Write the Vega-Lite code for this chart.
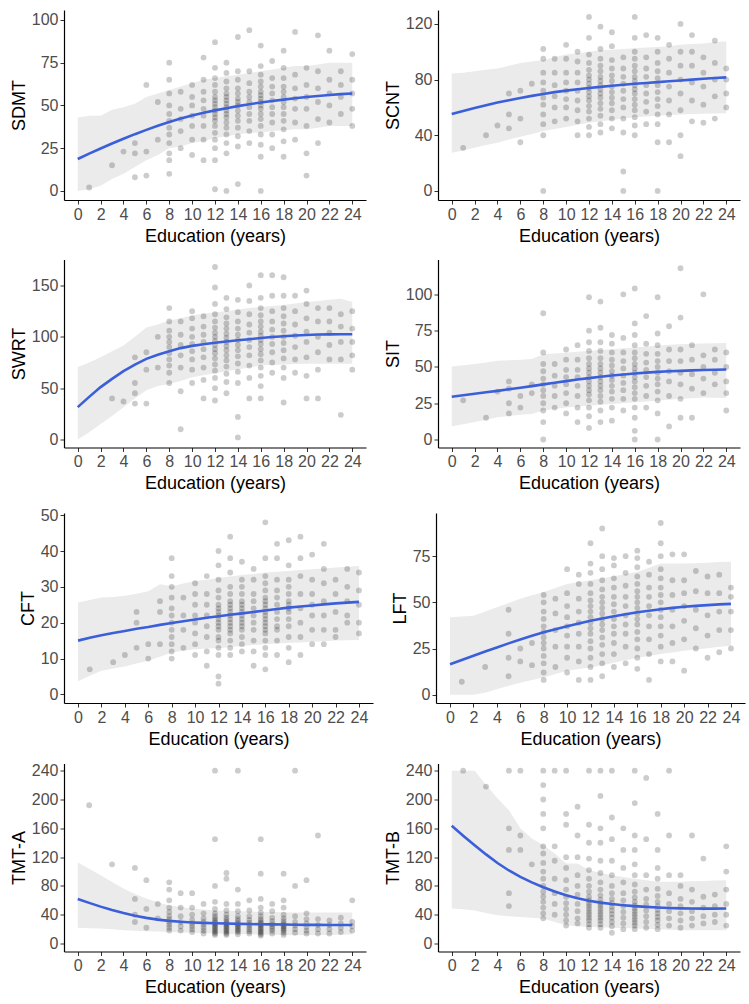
{
"$schema":"https://vega.github.io/schema/vega-lite/v6.json",
"padding":{"left":10,"top":10,"right":5,"bottom":5},
"background":"white",
"config":{"view":{"stroke":null},"font":"Liberation Sans",
"axis":{"grid":false,"domainColor":"#000","domainWidth":1.2,"tickColor":"#333","tickSize":4,"tickWidth":1,"labelFontSize":16,"labelColor":"#4d4d4d","labelOverlap":false,"titleFontSize":18,"titleFontWeight":"normal","titleColor":"#000","labelPadding":2,"titlePadding":5},
"axisY":{"titlePadding":3,"labelOverlap":false},
"circle":{"color":"#000","opacity":0.2,"size":34},
"line":{"color":"#3b5fd9","strokeWidth":2.6},
"area":{"color":"#ebebeb","opacity":1}},
"datasets":{
"bSDMT":[{"x":0,"lo":0,"hi":43,"f":18.7},{"x":1,"lo":1,"hi":44,"f":21.8},{"x":2,"lo":3,"hi":44,"f":24.8},{"x":3,"lo":7,"hi":47.5,"f":27.7},{"x":4,"lo":10,"hi":49,"f":30.5},{"x":5,"lo":14,"hi":51,"f":33.2},{"x":6,"lo":18,"hi":55,"f":35.7},{"x":7,"lo":21,"hi":57,"f":38.1},{"x":8,"lo":25,"hi":59,"f":40.3},{"x":9,"lo":26,"hi":61,"f":42.3},{"x":10,"lo":28,"hi":63,"f":44.1},{"x":11,"lo":29,"hi":65,"f":45.7},{"x":12,"lo":31,"hi":66,"f":47.1},{"x":13,"lo":32,"hi":67,"f":48.4},{"x":14,"lo":33,"hi":68,"f":49.6},{"x":15,"lo":34,"hi":69,"f":50.7},{"x":16,"lo":34,"hi":70,"f":51.7},{"x":17,"lo":35,"hi":71,"f":52.6},{"x":18,"lo":35.5,"hi":72,"f":53.4},{"x":19,"lo":36,"hi":73,"f":54.2},{"x":20,"lo":36,"hi":73,"f":54.9},{"x":21,"lo":37,"hi":74,"f":55.5},{"x":22,"lo":38,"hi":75,"f":56.1},{"x":23,"lo":38,"hi":75,"f":56.6},{"x":24,"lo":38,"hi":75,"f":57}],
"bSCNT":[{"x":0,"lo":27.4,"hi":84.4,"f":55.3},{"x":1,"lo":29,"hi":85,"f":57.5},{"x":2,"lo":31,"hi":86,"f":59.6},{"x":3,"lo":33,"hi":87,"f":61.6},{"x":4,"lo":34.7,"hi":88,"f":63.5},{"x":5,"lo":37,"hi":90,"f":65.2},{"x":6,"lo":39,"hi":92,"f":66.8},{"x":7,"lo":41,"hi":93,"f":68.3},{"x":8,"lo":43,"hi":94,"f":69.7},{"x":9,"lo":44.5,"hi":96,"f":71},{"x":10,"lo":46,"hi":98,"f":72.1},{"x":11,"lo":47.5,"hi":99,"f":73.1},{"x":12,"lo":49,"hi":100,"f":74},{"x":13,"lo":50,"hi":101,"f":74.8},{"x":14,"lo":51,"hi":101.5,"f":75.6},{"x":15,"lo":52,"hi":102,"f":76.3},{"x":16,"lo":53,"hi":102.5,"f":77},{"x":17,"lo":53.5,"hi":103,"f":77.6},{"x":18,"lo":54,"hi":103.5,"f":78.2},{"x":19,"lo":54.5,"hi":104,"f":78.8},{"x":20,"lo":55,"hi":105,"f":79.4},{"x":21,"lo":55.3,"hi":105.5,"f":80},{"x":22,"lo":55.5,"hi":106,"f":80.6},{"x":23,"lo":55.7,"hi":107,"f":81.1},{"x":24,"lo":55.8,"hi":107.4,"f":81.6}],
"bSWRT":[{"x":0,"lo":0,"hi":70.5,"f":31.5},{"x":1,"lo":7,"hi":75,"f":41.5},{"x":2,"lo":15,"hi":80,"f":51},{"x":3,"lo":23,"hi":86,"f":59},{"x":4,"lo":31.5,"hi":91.5,"f":66.5},{"x":5,"lo":40,"hi":100,"f":73},{"x":6,"lo":48,"hi":109,"f":78.5},{"x":7,"lo":52,"hi":112,"f":82.5},{"x":8,"lo":54,"hi":116,"f":86},{"x":9,"lo":57,"hi":118,"f":89},{"x":10,"lo":60.7,"hi":121,"f":91.2},{"x":11,"lo":62.5,"hi":122.5,"f":92.8},{"x":12,"lo":64.6,"hi":124,"f":94.2},{"x":13,"lo":66.5,"hi":125,"f":95.4},{"x":14,"lo":68.5,"hi":126.5,"f":96.6},{"x":15,"lo":70,"hi":128,"f":97.7},{"x":16,"lo":72,"hi":129,"f":98.8},{"x":17,"lo":72.5,"hi":130,"f":99.8},{"x":18,"lo":73,"hi":131,"f":100.6},{"x":19,"lo":73.5,"hi":132.5,"f":101.3},{"x":20,"lo":73.7,"hi":134,"f":101.8},{"x":21,"lo":73.7,"hi":135,"f":102.2},{"x":22,"lo":73.7,"hi":136,"f":102.4},{"x":23,"lo":73.7,"hi":137,"f":102.5},{"x":24,"lo":73.7,"hi":134,"f":102.5}],
"bSIT":[{"x":0,"lo":9.2,"hi":50.3,"f":29.5},{"x":1,"lo":10.6,"hi":51.2,"f":30.5},{"x":2,"lo":12,"hi":52,"f":31.5},{"x":3,"lo":13.6,"hi":53,"f":32.5},{"x":4,"lo":15.3,"hi":54.2,"f":33.5},{"x":5,"lo":16.2,"hi":54.6,"f":34.6},{"x":6,"lo":17,"hi":55,"f":35.7},{"x":7,"lo":17.6,"hi":55.4,"f":36.8},{"x":8,"lo":20,"hi":58.8,"f":38},{"x":9,"lo":21,"hi":59.3,"f":39.1},{"x":10,"lo":22,"hi":59.8,"f":40.2},{"x":11,"lo":22.7,"hi":60.4,"f":41.3},{"x":12,"lo":23.3,"hi":61,"f":42.3},{"x":13,"lo":23.9,"hi":61.6,"f":43.2},{"x":14,"lo":24.5,"hi":62.2,"f":44.1},{"x":15,"lo":25,"hi":62.8,"f":44.8},{"x":16,"lo":25.6,"hi":63.4,"f":45.5},{"x":17,"lo":26.2,"hi":64,"f":46.1},{"x":18,"lo":26.8,"hi":64.6,"f":46.6},{"x":19,"lo":27.4,"hi":65.2,"f":47},{"x":20,"lo":28,"hi":65.7,"f":47.3},{"x":21,"lo":28.5,"hi":66,"f":47.6},{"x":22,"lo":29,"hi":66.2,"f":47.9},{"x":23,"lo":28.8,"hi":66.3,"f":48.1},{"x":24,"lo":28.6,"hi":66.4,"f":48.2}],
"bCFT":[{"x":0,"lo":3.7,"hi":25.6,"f":15},{"x":1,"lo":5.2,"hi":26.3,"f":15.8},{"x":2,"lo":6.6,"hi":27,"f":16.5},{"x":3,"lo":7.2,"hi":27.2,"f":17.1},{"x":4,"lo":7.8,"hi":27.5,"f":17.7},{"x":5,"lo":8.6,"hi":28.1,"f":18.3},{"x":6,"lo":9.4,"hi":28.8,"f":18.8},{"x":7,"lo":10.5,"hi":30.7,"f":19.4},{"x":8,"lo":11.7,"hi":30.2,"f":19.9},{"x":9,"lo":12.2,"hi":30.9,"f":20.4},{"x":10,"lo":12.6,"hi":31.6,"f":20.9},{"x":11,"lo":12.8,"hi":32,"f":21.4},{"x":12,"lo":12.9,"hi":32.5,"f":21.8},{"x":13,"lo":13.2,"hi":32.9,"f":22.2},{"x":14,"lo":13.5,"hi":33.3,"f":22.6},{"x":15,"lo":13.8,"hi":33.6,"f":23},{"x":16,"lo":14,"hi":34,"f":23.4},{"x":17,"lo":14.2,"hi":34.2,"f":23.8},{"x":18,"lo":14.4,"hi":34.4,"f":24.2},{"x":19,"lo":14.5,"hi":34.7,"f":24.5},{"x":20,"lo":14.7,"hi":34.9,"f":24.8},{"x":21,"lo":14.8,"hi":35.1,"f":25.1},{"x":22,"lo":15,"hi":35.4,"f":25.4},{"x":23,"lo":15.1,"hi":35.6,"f":25.6},{"x":24,"lo":15.2,"hi":35.8,"f":25.8}],
"bLFT":[{"x":0,"lo":0,"hi":42,"f":16.5},{"x":1,"lo":0,"hi":42.4,"f":18.8},{"x":2,"lo":0,"hi":42.8,"f":21.1},{"x":3,"lo":1,"hi":45,"f":23.4},{"x":4,"lo":3,"hi":47.4,"f":25.6},{"x":5,"lo":4.8,"hi":49.7,"f":27.8},{"x":6,"lo":6.5,"hi":52,"f":29.9},{"x":7,"lo":8,"hi":53.8,"f":31.9},{"x":8,"lo":9.3,"hi":55.6,"f":33.8},{"x":9,"lo":11.2,"hi":57.8,"f":35.5},{"x":10,"lo":13,"hi":60,"f":37.1},{"x":11,"lo":13.9,"hi":61,"f":38.6},{"x":12,"lo":14.7,"hi":62,"f":40},{"x":13,"lo":16,"hi":63.1,"f":41.3},{"x":14,"lo":17.3,"hi":64.2,"f":42.5},{"x":15,"lo":18.7,"hi":65.4,"f":43.6},{"x":16,"lo":20,"hi":66.5,"f":44.6},{"x":17,"lo":21,"hi":68.7,"f":45.5},{"x":18,"lo":22,"hi":71,"f":46.3},{"x":19,"lo":22.9,"hi":71,"f":47},{"x":20,"lo":23.8,"hi":71,"f":47.6},{"x":21,"lo":24.5,"hi":71.2,"f":48.1},{"x":22,"lo":25.2,"hi":71.5,"f":48.5},{"x":23,"lo":25.9,"hi":71.8,"f":48.9},{"x":24,"lo":26.5,"hi":72,"f":49.2}],
"bTMTA":[{"x":0,"lo":21.8,"hi":112.6,"f":62},{"x":1,"lo":21.4,"hi":104,"f":56.5},{"x":2,"lo":21,"hi":95,"f":51.3},{"x":3,"lo":19.8,"hi":85.5,"f":46.5},{"x":4,"lo":18.5,"hi":76.5,"f":42.3},{"x":5,"lo":17.8,"hi":69,"f":38.7},{"x":6,"lo":17.2,"hi":62.5,"f":35.7},{"x":7,"lo":16.6,"hi":57.5,"f":33.3},{"x":8,"lo":16,"hi":53,"f":31.5},{"x":9,"lo":15.5,"hi":50.7,"f":30.2},{"x":10,"lo":15,"hi":48.7,"f":29.3},{"x":11,"lo":14.5,"hi":47.3,"f":28.7},{"x":12,"lo":14,"hi":46,"f":28.2},{"x":13,"lo":13.6,"hi":45.5,"f":27.8},{"x":14,"lo":13.2,"hi":45,"f":27.4},{"x":15,"lo":12.8,"hi":44.5,"f":27.1},{"x":16,"lo":12.5,"hi":44,"f":26.8},{"x":17,"lo":12.3,"hi":43.7,"f":26.6},{"x":18,"lo":12,"hi":43.5,"f":26.4},{"x":19,"lo":11.8,"hi":43.2,"f":26.2},{"x":20,"lo":11.6,"hi":43,"f":26},{"x":21,"lo":11.8,"hi":43,"f":25.9},{"x":22,"lo":12,"hi":43,"f":25.8},{"x":23,"lo":12.2,"hi":43,"f":25.8},{"x":24,"lo":12.5,"hi":43,"f":25.8}],
"bTMTB":[{"x":0,"lo":48.7,"hi":240,"f":163.6},{"x":1,"lo":47.5,"hi":240,"f":149.8},{"x":2,"lo":46,"hi":240,"f":136.6},{"x":3,"lo":42.5,"hi":220,"f":123.8},{"x":4,"lo":39.4,"hi":201.6,"f":111.8},{"x":5,"lo":38,"hi":185,"f":101.5},{"x":6,"lo":37,"hi":160,"f":92.7},{"x":7,"lo":36,"hi":146,"f":85},{"x":8,"lo":34.8,"hi":136.7,"f":78.2},{"x":9,"lo":30,"hi":125,"f":72.2},{"x":10,"lo":25.5,"hi":111,"f":67},{"x":11,"lo":24,"hi":111,"f":62.8},{"x":12,"lo":23,"hi":102,"f":59.5},{"x":13,"lo":22.5,"hi":98,"f":56.9},{"x":14,"lo":22,"hi":95,"f":54.9},{"x":15,"lo":21.5,"hi":92.5,"f":53.3},{"x":16,"lo":21,"hi":90,"f":52},{"x":17,"lo":20.5,"hi":88,"f":51},{"x":18,"lo":20,"hi":86,"f":50.1},{"x":19,"lo":19.2,"hi":86,"f":49.4},{"x":20,"lo":18.5,"hi":86,"f":48.9},{"x":21,"lo":18.5,"hi":86.5,"f":48.6},{"x":22,"lo":18.5,"hi":87,"f":48.5},{"x":23,"lo":18.5,"hi":87.5,"f":48.5},{"x":24,"lo":18.5,"hi":88,"f":48.6}],
"pSDMT":[{"x":1,"y":2},{"x":3,"y":15},{"x":4,"y":23},{"x":5,"y":8},{"x":5,"y":28},{"x":5,"y":22},{"x":6,"y":62},{"x":6,"y":9},{"x":6,"y":23},{"x":7,"y":30},{"x":7,"y":52},
{"x":8,"y":10},{"x":8,"y":18},{"x":8,"y":22},{"x":8,"y":28},{"x":8,"y":33},{"x":8,"y":37},{"x":8,"y":41},{"x":8,"y":45},{"x":8,"y":50},{"x":8,"y":57},{"x":8,"y":65},{"x":8,"y":75},
{"x":9,"y":25},{"x":9,"y":35},{"x":9,"y":42},{"x":9,"y":48},{"x":9,"y":58},
{"x":10,"y":21},{"x":10,"y":30},{"x":10,"y":38},{"x":10,"y":44},{"x":10,"y":50},{"x":10,"y":55},{"x":10,"y":62},
{"x":11,"y":18},{"x":11,"y":30},{"x":11,"y":38},{"x":11,"y":44},{"x":11,"y":48},{"x":11,"y":53},{"x":11,"y":58},{"x":11,"y":65},{"x":11,"y":78},
{"x":12,"y":1},{"x":12,"y":18},{"x":12,"y":25},{"x":12,"y":30},{"x":12,"y":34},{"x":12,"y":38},{"x":12,"y":41},{"x":12,"y":43},{"x":12,"y":45},{"x":12,"y":47},{"x":12,"y":49},{"x":12,"y":51},{"x":12,"y":53},{"x":12,"y":55},{"x":12,"y":58},{"x":12,"y":62},{"x":12,"y":66},{"x":12,"y":72},{"x":12,"y":87},
{"x":13,"y":0},{"x":13,"y":22},{"x":13,"y":28},{"x":13,"y":33},{"x":13,"y":37},{"x":13,"y":40},{"x":13,"y":43},{"x":13,"y":45},{"x":13,"y":47},{"x":13,"y":49},{"x":13,"y":51},{"x":13,"y":53},{"x":13,"y":55},{"x":13,"y":57},{"x":13,"y":60},{"x":13,"y":64},{"x":13,"y":69},{"x":13,"y":75},
{"x":14,"y":4},{"x":14,"y":26},{"x":14,"y":32},{"x":14,"y":37},{"x":14,"y":41},{"x":14,"y":44},{"x":14,"y":47},{"x":14,"y":50},{"x":14,"y":52},{"x":14,"y":54},{"x":14,"y":57},{"x":14,"y":60},{"x":14,"y":65},{"x":14,"y":70},{"x":14,"y":90},
{"x":15,"y":28},{"x":15,"y":35},{"x":15,"y":41},{"x":15,"y":45},{"x":15,"y":49},{"x":15,"y":52},{"x":15,"y":55},{"x":15,"y":58},{"x":15,"y":63},{"x":15,"y":70},{"x":15,"y":94},
{"x":16,"y":0},{"x":16,"y":20},{"x":16,"y":27},{"x":16,"y":33},{"x":16,"y":38},{"x":16,"y":42},{"x":16,"y":45},{"x":16,"y":48},{"x":16,"y":50},{"x":16,"y":52},{"x":16,"y":54},{"x":16,"y":56},{"x":16,"y":58},{"x":16,"y":61},{"x":16,"y":64},{"x":16,"y":68},{"x":16,"y":73},{"x":16,"y":85},
{"x":17,"y":25},{"x":17,"y":33},{"x":17,"y":40},{"x":17,"y":45},{"x":17,"y":49},{"x":17,"y":53},{"x":17,"y":57},{"x":17,"y":61},{"x":17,"y":66},{"x":17,"y":76},
{"x":18,"y":20},{"x":18,"y":29},{"x":18,"y":36},{"x":18,"y":41},{"x":18,"y":45},{"x":18,"y":49},{"x":18,"y":52},{"x":18,"y":55},{"x":18,"y":58},{"x":18,"y":61},{"x":18,"y":66},{"x":18,"y":72},{"x":18,"y":82},
{"x":19,"y":30},{"x":19,"y":40},{"x":19,"y":48},{"x":19,"y":54},{"x":19,"y":60},{"x":19,"y":68},{"x":19,"y":93},
{"x":20,"y":9},{"x":20,"y":22},{"x":20,"y":38},{"x":20,"y":48},{"x":20,"y":55},{"x":20,"y":62},{"x":20,"y":72},
{"x":21,"y":28},{"x":21,"y":42},{"x":21,"y":52},{"x":21,"y":60},{"x":21,"y":70},{"x":21,"y":91},
{"x":22,"y":40},{"x":22,"y":50},{"x":22,"y":57},{"x":22,"y":65},{"x":22,"y":82},
{"x":23,"y":45},{"x":23,"y":55},{"x":23,"y":62},{"x":23,"y":70},
{"x":24,"y":38},{"x":24,"y":48},{"x":24,"y":57},{"x":24,"y":65},{"x":24,"y":80}],
"pSCNT":[{"x":1,"y":31},{"x":3,"y":40},{"x":4,"y":47},{"x":5,"y":45},{"x":5,"y":55},{"x":5,"y":70},{"x":6,"y":35},{"x":6,"y":52},{"x":6,"y":72},{"x":7,"y":77},
{"x":8,"y":0},{"x":8,"y":40},{"x":8,"y":48},{"x":8,"y":55},{"x":8,"y":62},{"x":8,"y":67},{"x":8,"y":72},{"x":8,"y":78},{"x":8,"y":85},{"x":8,"y":95},{"x":8,"y":102},
{"x":9,"y":50},{"x":9,"y":60},{"x":9,"y":68},{"x":9,"y":76},{"x":9,"y":85},{"x":9,"y":95},
{"x":10,"y":52},{"x":10,"y":60},{"x":10,"y":66},{"x":10,"y":72},{"x":10,"y":78},{"x":10,"y":85},{"x":10,"y":95},{"x":10,"y":105},
{"x":11,"y":40},{"x":11,"y":50},{"x":11,"y":58},{"x":11,"y":65},{"x":11,"y":72},{"x":11,"y":78},{"x":11,"y":85},{"x":11,"y":93},{"x":11,"y":100},
{"x":12,"y":40},{"x":12,"y":46},{"x":12,"y":52},{"x":12,"y":57},{"x":12,"y":61},{"x":12,"y":65},{"x":12,"y":68},{"x":12,"y":71},{"x":12,"y":74},{"x":12,"y":77},{"x":12,"y":80},{"x":12,"y":83},{"x":12,"y":87},{"x":12,"y":92},{"x":12,"y":98},{"x":12,"y":110},{"x":12,"y":125},
{"x":13,"y":42},{"x":13,"y":48},{"x":13,"y":54},{"x":13,"y":59},{"x":13,"y":63},{"x":13,"y":67},{"x":13,"y":70},{"x":13,"y":73},{"x":13,"y":76},{"x":13,"y":79},{"x":13,"y":82},{"x":13,"y":86},{"x":13,"y":90},{"x":13,"y":95},{"x":13,"y":102},{"x":13,"y":118},
{"x":14,"y":45},{"x":14,"y":52},{"x":14,"y":58},{"x":14,"y":63},{"x":14,"y":67},{"x":14,"y":71},{"x":14,"y":75},{"x":14,"y":79},{"x":14,"y":83},{"x":14,"y":88},{"x":14,"y":94},{"x":14,"y":104},{"x":14,"y":114},
{"x":15,"y":0},{"x":15,"y":14},{"x":15,"y":42},{"x":15,"y":52},{"x":15,"y":60},{"x":15,"y":66},{"x":15,"y":72},{"x":15,"y":77},{"x":15,"y":82},{"x":15,"y":88},{"x":15,"y":96},
{"x":16,"y":40},{"x":16,"y":47},{"x":16,"y":53},{"x":16,"y":58},{"x":16,"y":62},{"x":16,"y":66},{"x":16,"y":70},{"x":16,"y":73},{"x":16,"y":76},{"x":16,"y":79},{"x":16,"y":82},{"x":16,"y":86},{"x":16,"y":90},{"x":16,"y":95},{"x":16,"y":100},{"x":16,"y":110},{"x":16,"y":125},
{"x":17,"y":48},{"x":17,"y":57},{"x":17,"y":64},{"x":17,"y":70},{"x":17,"y":76},{"x":17,"y":82},{"x":17,"y":88},{"x":17,"y":96},{"x":17,"y":112},
{"x":18,"y":0},{"x":18,"y":35},{"x":18,"y":48},{"x":18,"y":55},{"x":18,"y":61},{"x":18,"y":66},{"x":18,"y":71},{"x":18,"y":76},{"x":18,"y":81},{"x":18,"y":86},{"x":18,"y":92},{"x":18,"y":100},{"x":18,"y":110},
{"x":19,"y":35},{"x":19,"y":55},{"x":19,"y":65},{"x":19,"y":75},{"x":19,"y":85},{"x":19,"y":95},{"x":19,"y":105},
{"x":20,"y":25},{"x":20,"y":40},{"x":20,"y":58},{"x":20,"y":70},{"x":20,"y":80},{"x":20,"y":90},{"x":20,"y":100},{"x":20,"y":120},
{"x":21,"y":50},{"x":21,"y":65},{"x":21,"y":78},{"x":21,"y":90},{"x":21,"y":100},{"x":21,"y":112},
{"x":22,"y":49},{"x":22,"y":62},{"x":22,"y":75},{"x":22,"y":85},{"x":22,"y":96},
{"x":23,"y":52},{"x":23,"y":68},{"x":23,"y":80},{"x":23,"y":92},{"x":23,"y":108},
{"x":24,"y":60},{"x":24,"y":70},{"x":24,"y":80},{"x":24,"y":88}],
"pSWRT":[{"x":3,"y":40},{"x":4,"y":37},{"x":5,"y":35},{"x":5,"y":45},{"x":5,"y":55},{"x":5,"y":80},{"x":6,"y":35},{"x":6,"y":68},{"x":6,"y":85},{"x":7,"y":70},{"x":7,"y":100},
{"x":8,"y":55},{"x":8,"y":65},{"x":8,"y":72},{"x":8,"y":78},{"x":8,"y":84},{"x":8,"y":90},{"x":8,"y":95},{"x":8,"y":100},{"x":8,"y":106},{"x":8,"y":115},{"x":8,"y":128},
{"x":9,"y":10},{"x":9,"y":47},{"x":9,"y":70},{"x":9,"y":82},{"x":9,"y":92},{"x":9,"y":102},{"x":9,"y":115},
{"x":10,"y":55},{"x":10,"y":68},{"x":10,"y":78},{"x":10,"y":86},{"x":10,"y":93},{"x":10,"y":100},{"x":10,"y":108},{"x":10,"y":118},{"x":10,"y":125},
{"x":11,"y":40},{"x":11,"y":58},{"x":11,"y":70},{"x":11,"y":80},{"x":11,"y":88},{"x":11,"y":95},{"x":11,"y":102},{"x":11,"y":110},{"x":11,"y":120},
{"x":12,"y":38},{"x":12,"y":50},{"x":12,"y":60},{"x":12,"y":67},{"x":12,"y":73},{"x":12,"y":79},{"x":12,"y":84},{"x":12,"y":88},{"x":12,"y":92},{"x":12,"y":96},{"x":12,"y":100},{"x":12,"y":104},{"x":12,"y":109},{"x":12,"y":115},{"x":12,"y":122},{"x":12,"y":132},{"x":12,"y":148},{"x":12,"y":168},
{"x":13,"y":45},{"x":13,"y":56},{"x":13,"y":64},{"x":13,"y":71},{"x":13,"y":77},{"x":13,"y":82},{"x":13,"y":87},{"x":13,"y":91},{"x":13,"y":95},{"x":13,"y":99},{"x":13,"y":103},{"x":13,"y":108},{"x":13,"y":113},{"x":13,"y":119},{"x":13,"y":127},{"x":13,"y":138},
{"x":14,"y":2},{"x":14,"y":22},{"x":14,"y":55},{"x":14,"y":66},{"x":14,"y":74},{"x":14,"y":81},{"x":14,"y":87},{"x":14,"y":92},{"x":14,"y":97},{"x":14,"y":102},{"x":14,"y":108},{"x":14,"y":115},{"x":14,"y":124},{"x":14,"y":136},
{"x":15,"y":40},{"x":15,"y":60},{"x":15,"y":72},{"x":15,"y":82},{"x":15,"y":90},{"x":15,"y":97},{"x":15,"y":104},{"x":15,"y":112},{"x":15,"y":122},{"x":15,"y":135},{"x":15,"y":150},
{"x":16,"y":40},{"x":16,"y":52},{"x":16,"y":62},{"x":16,"y":70},{"x":16,"y":77},{"x":16,"y":83},{"x":16,"y":88},{"x":16,"y":93},{"x":16,"y":97},{"x":16,"y":101},{"x":16,"y":105},{"x":16,"y":110},{"x":16,"y":115},{"x":16,"y":121},{"x":16,"y":128},{"x":16,"y":138},{"x":16,"y":160},
{"x":17,"y":65},{"x":17,"y":75},{"x":17,"y":85},{"x":17,"y":93},{"x":17,"y":100},{"x":17,"y":107},{"x":17,"y":115},{"x":17,"y":125},{"x":17,"y":140},{"x":17,"y":160},
{"x":18,"y":36},{"x":18,"y":60},{"x":18,"y":70},{"x":18,"y":79},{"x":18,"y":87},{"x":18,"y":94},{"x":18,"y":100},{"x":18,"y":106},{"x":18,"y":113},{"x":18,"y":120},{"x":18,"y":128},{"x":18,"y":140},{"x":18,"y":158},
{"x":19,"y":65},{"x":19,"y":78},{"x":19,"y":90},{"x":19,"y":101},{"x":19,"y":112},{"x":19,"y":125},{"x":19,"y":140},
{"x":20,"y":40},{"x":20,"y":62},{"x":20,"y":80},{"x":20,"y":95},{"x":20,"y":105},{"x":20,"y":118},{"x":20,"y":132},{"x":20,"y":145},
{"x":21,"y":40},{"x":21,"y":68},{"x":21,"y":85},{"x":21,"y":100},{"x":21,"y":115},{"x":21,"y":128},
{"x":22,"y":78},{"x":22,"y":92},{"x":22,"y":104},{"x":22,"y":115},{"x":22,"y":128},
{"x":23,"y":24},{"x":23,"y":78},{"x":23,"y":95},{"x":23,"y":110},{"x":23,"y":122},
{"x":24,"y":68},{"x":24,"y":82},{"x":24,"y":95},{"x":24,"y":108},{"x":24,"y":125}],
"pSIT":[{"x":1,"y":27},{"x":3,"y":15},{"x":4,"y":33},{"x":5,"y":18},{"x":5,"y":25},{"x":5,"y":35},{"x":5,"y":40},{"x":6,"y":22},{"x":6,"y":30},{"x":7,"y":32},{"x":7,"y":38},
{"x":8,"y":0},{"x":8,"y":12},{"x":8,"y":20},{"x":8,"y":25},{"x":8,"y":30},{"x":8,"y":34},{"x":8,"y":38},{"x":8,"y":42},{"x":8,"y":47},{"x":8,"y":52},{"x":8,"y":60},{"x":8,"y":87},
{"x":9,"y":22},{"x":9,"y":30},{"x":9,"y":37},{"x":9,"y":44},{"x":9,"y":52},
{"x":10,"y":18},{"x":10,"y":25},{"x":10,"y":32},{"x":10,"y":38},{"x":10,"y":43},{"x":10,"y":48},{"x":10,"y":55},{"x":10,"y":62},
{"x":11,"y":12},{"x":11,"y":22},{"x":11,"y":30},{"x":11,"y":37},{"x":11,"y":43},{"x":11,"y":48},{"x":11,"y":55},{"x":11,"y":65},
{"x":12,"y":8},{"x":12,"y":16},{"x":12,"y":22},{"x":12,"y":27},{"x":12,"y":31},{"x":12,"y":34},{"x":12,"y":37},{"x":12,"y":40},{"x":12,"y":43},{"x":12,"y":46},{"x":12,"y":49},{"x":12,"y":52},{"x":12,"y":56},{"x":12,"y":61},{"x":12,"y":67},{"x":12,"y":75},{"x":12,"y":98},
{"x":13,"y":12},{"x":13,"y":20},{"x":13,"y":26},{"x":13,"y":30},{"x":13,"y":34},{"x":13,"y":37},{"x":13,"y":40},{"x":13,"y":43},{"x":13,"y":46},{"x":13,"y":49},{"x":13,"y":52},{"x":13,"y":56},{"x":13,"y":61},{"x":13,"y":67},{"x":13,"y":77},{"x":13,"y":95},
{"x":14,"y":13},{"x":14,"y":22},{"x":14,"y":28},{"x":14,"y":33},{"x":14,"y":37},{"x":14,"y":41},{"x":14,"y":44},{"x":14,"y":47},{"x":14,"y":51},{"x":14,"y":55},{"x":14,"y":60},{"x":14,"y":66},{"x":14,"y":72},
{"x":15,"y":20},{"x":15,"y":28},{"x":15,"y":34},{"x":15,"y":39},{"x":15,"y":44},{"x":15,"y":49},{"x":15,"y":54},{"x":15,"y":60},{"x":15,"y":70},{"x":15,"y":100},
{"x":16,"y":0},{"x":16,"y":6},{"x":16,"y":15},{"x":16,"y":22},{"x":16,"y":28},{"x":16,"y":32},{"x":16,"y":36},{"x":16,"y":40},{"x":16,"y":43},{"x":16,"y":46},{"x":16,"y":49},{"x":16,"y":52},{"x":16,"y":56},{"x":16,"y":60},{"x":16,"y":65},{"x":16,"y":72},{"x":16,"y":80},{"x":16,"y":104},
{"x":17,"y":22},{"x":17,"y":30},{"x":17,"y":37},{"x":17,"y":43},{"x":17,"y":48},{"x":17,"y":53},{"x":17,"y":59},{"x":17,"y":66},{"x":17,"y":85},
{"x":18,"y":0},{"x":18,"y":18},{"x":18,"y":27},{"x":18,"y":33},{"x":18,"y":38},{"x":18,"y":42},{"x":18,"y":46},{"x":18,"y":50},{"x":18,"y":54},{"x":18,"y":59},{"x":18,"y":65},{"x":18,"y":73},{"x":18,"y":98},
{"x":19,"y":9},{"x":19,"y":30},{"x":19,"y":40},{"x":19,"y":47},{"x":19,"y":54},{"x":19,"y":62},{"x":19,"y":78},
{"x":20,"y":15},{"x":20,"y":28},{"x":20,"y":38},{"x":20,"y":46},{"x":20,"y":54},{"x":20,"y":62},{"x":20,"y":84},{"x":20,"y":118},
{"x":21,"y":15},{"x":21,"y":35},{"x":21,"y":45},{"x":21,"y":55},{"x":21,"y":65},
{"x":22,"y":32},{"x":22,"y":42},{"x":22,"y":50},{"x":22,"y":58},{"x":22,"y":100},
{"x":23,"y":38},{"x":23,"y":46},{"x":23,"y":55},{"x":23,"y":62},
{"x":24,"y":20},{"x":24,"y":32},{"x":24,"y":40},{"x":24,"y":50},{"x":24,"y":60}],
"pCFT":[{"x":1,"y":7},{"x":3,"y":9},{"x":4,"y":11},{"x":5,"y":13},{"x":5,"y":23},{"x":5,"y":20},{"x":6,"y":10},{"x":6,"y":14},{"x":7,"y":14},{"x":7,"y":23},{"x":7,"y":26},
{"x":8,"y":10},{"x":8,"y":12},{"x":8,"y":14},{"x":8,"y":16},{"x":8,"y":18},{"x":8,"y":20},{"x":8,"y":22},{"x":8,"y":24},{"x":8,"y":27},{"x":8,"y":30},{"x":8,"y":33},{"x":8,"y":38},
{"x":9,"y":13},{"x":9,"y":18},{"x":9,"y":22},{"x":9,"y":27},
{"x":10,"y":11},{"x":10,"y":14},{"x":10,"y":17},{"x":10,"y":20},{"x":10,"y":22},{"x":10,"y":25},{"x":10,"y":28},{"x":10,"y":31},
{"x":11,"y":8},{"x":11,"y":12},{"x":11,"y":16},{"x":11,"y":19},{"x":11,"y":22},{"x":11,"y":25},{"x":11,"y":28},{"x":11,"y":33},
{"x":12,"y":3},{"x":12,"y":5},{"x":12,"y":11},{"x":12,"y":13},{"x":12,"y":15},{"x":12,"y":16},{"x":12,"y":18},{"x":12,"y":19},{"x":12,"y":20},{"x":12,"y":21},{"x":12,"y":22},{"x":12,"y":23},{"x":12,"y":24},{"x":12,"y":25},{"x":12,"y":27},{"x":12,"y":29},{"x":12,"y":32},{"x":12,"y":36},{"x":12,"y":40},
{"x":13,"y":11},{"x":13,"y":13},{"x":13,"y":15},{"x":13,"y":17},{"x":13,"y":18},{"x":13,"y":19},{"x":13,"y":20},{"x":13,"y":21},{"x":13,"y":22},{"x":13,"y":23},{"x":13,"y":24},{"x":13,"y":25},{"x":13,"y":26},{"x":13,"y":28},{"x":13,"y":30},{"x":13,"y":34},{"x":13,"y":38},{"x":13,"y":44},
{"x":14,"y":12},{"x":14,"y":14},{"x":14,"y":16},{"x":14,"y":18},{"x":14,"y":19},{"x":14,"y":20},{"x":14,"y":21},{"x":14,"y":22},{"x":14,"y":23},{"x":14,"y":24},{"x":14,"y":25},{"x":14,"y":26},{"x":14,"y":28},{"x":14,"y":30},{"x":14,"y":32},{"x":14,"y":37},
{"x":15,"y":8},{"x":15,"y":12},{"x":15,"y":15},{"x":15,"y":18},{"x":15,"y":20},{"x":15,"y":22},{"x":15,"y":24},{"x":15,"y":26},{"x":15,"y":28},{"x":15,"y":32},{"x":15,"y":35},
{"x":16,"y":7},{"x":16,"y":11},{"x":16,"y":13},{"x":16,"y":15},{"x":16,"y":17},{"x":16,"y":18},{"x":16,"y":19},{"x":16,"y":20},{"x":16,"y":21},{"x":16,"y":22},{"x":16,"y":23},{"x":16,"y":24},{"x":16,"y":25},{"x":16,"y":26},{"x":16,"y":27},{"x":16,"y":29},{"x":16,"y":31},{"x":16,"y":33},{"x":16,"y":38},{"x":16,"y":48},
{"x":17,"y":11},{"x":17,"y":15},{"x":17,"y":18},{"x":17,"y":19},{"x":17,"y":21},{"x":17,"y":23},{"x":17,"y":25},{"x":17,"y":27},{"x":17,"y":29},{"x":17,"y":32},{"x":17,"y":38},{"x":17,"y":42},
{"x":18,"y":9},{"x":18,"y":13},{"x":18,"y":16},{"x":18,"y":19},{"x":18,"y":21},{"x":18,"y":23},{"x":18,"y":24},{"x":18,"y":25},{"x":18,"y":26},{"x":18,"y":28},{"x":18,"y":30},{"x":18,"y":32},{"x":18,"y":36},{"x":18,"y":43},
{"x":19,"y":11},{"x":19,"y":16},{"x":19,"y":20},{"x":19,"y":24},{"x":19,"y":28},{"x":19,"y":33},{"x":19,"y":38},{"x":19,"y":44},
{"x":20,"y":14},{"x":20,"y":18},{"x":20,"y":22},{"x":20,"y":25},{"x":20,"y":28},{"x":20,"y":32},{"x":20,"y":39},
{"x":21,"y":14},{"x":21,"y":18},{"x":21,"y":22},{"x":21,"y":26},{"x":21,"y":31},{"x":21,"y":35},{"x":21,"y":42},
{"x":22,"y":16},{"x":22,"y":18},{"x":22,"y":23},{"x":22,"y":28},{"x":22,"y":32},
{"x":23,"y":20},{"x":23,"y":22},{"x":23,"y":26},{"x":23,"y":30},{"x":23,"y":35},
{"x":24,"y":17},{"x":24,"y":20},{"x":24,"y":25},{"x":24,"y":29},{"x":24,"y":34}],
"pLFT":[{"x":1,"y":7},{"x":3,"y":15},{"x":5,"y":10},{"x":5,"y":20},{"x":5,"y":33},{"x":5,"y":46},{"x":6,"y":18},{"x":6,"y":25},{"x":7,"y":16},{"x":7,"y":28},
{"x":8,"y":8},{"x":8,"y":12},{"x":8,"y":17},{"x":8,"y":21},{"x":8,"y":25},{"x":8,"y":28},{"x":8,"y":31},{"x":8,"y":34},{"x":8,"y":37},{"x":8,"y":41},{"x":8,"y":45},{"x":8,"y":50},{"x":8,"y":54},
{"x":9,"y":15},{"x":9,"y":26},{"x":9,"y":35},{"x":9,"y":44},{"x":9,"y":52},
{"x":10,"y":12},{"x":10,"y":20},{"x":10,"y":26},{"x":10,"y":32},{"x":10,"y":37},{"x":10,"y":42},{"x":10,"y":48},{"x":10,"y":55},{"x":10,"y":68},
{"x":11,"y":8},{"x":11,"y":18},{"x":11,"y":26},{"x":11,"y":33},{"x":11,"y":39},{"x":11,"y":45},{"x":11,"y":52},{"x":11,"y":60},{"x":11,"y":65},
{"x":12,"y":8},{"x":12,"y":15},{"x":12,"y":20},{"x":12,"y":25},{"x":12,"y":29},{"x":12,"y":33},{"x":12,"y":36},{"x":12,"y":39},{"x":12,"y":42},{"x":12,"y":45},{"x":12,"y":48},{"x":12,"y":51},{"x":12,"y":55},{"x":12,"y":60},{"x":12,"y":66},{"x":12,"y":71},{"x":12,"y":82},
{"x":13,"y":10},{"x":13,"y":17},{"x":13,"y":22},{"x":13,"y":27},{"x":13,"y":31},{"x":13,"y":35},{"x":13,"y":38},{"x":13,"y":41},{"x":13,"y":44},{"x":13,"y":47},{"x":13,"y":50},{"x":13,"y":53},{"x":13,"y":57},{"x":13,"y":62},{"x":13,"y":68},{"x":13,"y":75},{"x":13,"y":90},
{"x":14,"y":15},{"x":14,"y":22},{"x":14,"y":28},{"x":14,"y":33},{"x":14,"y":37},{"x":14,"y":41},{"x":14,"y":45},{"x":14,"y":49},{"x":14,"y":53},{"x":14,"y":58},{"x":14,"y":63},{"x":14,"y":70},{"x":14,"y":74},
{"x":15,"y":17},{"x":15,"y":26},{"x":15,"y":33},{"x":15,"y":38},{"x":15,"y":43},{"x":15,"y":48},{"x":15,"y":53},{"x":15,"y":59},{"x":15,"y":66},{"x":15,"y":75},
{"x":16,"y":14},{"x":16,"y":20},{"x":16,"y":25},{"x":16,"y":30},{"x":16,"y":34},{"x":16,"y":38},{"x":16,"y":41},{"x":16,"y":44},{"x":16,"y":47},{"x":16,"y":50},{"x":16,"y":53},{"x":16,"y":56},{"x":16,"y":60},{"x":16,"y":64},{"x":16,"y":69},{"x":16,"y":74},{"x":16,"y":78},
{"x":17,"y":8},{"x":17,"y":22},{"x":17,"y":30},{"x":17,"y":37},{"x":17,"y":43},{"x":17,"y":48},{"x":17,"y":53},{"x":17,"y":58},{"x":17,"y":65},{"x":17,"y":72},
{"x":18,"y":18},{"x":18,"y":26},{"x":18,"y":32},{"x":18,"y":37},{"x":18,"y":42},{"x":18,"y":46},{"x":18,"y":50},{"x":18,"y":54},{"x":18,"y":58},{"x":18,"y":63},{"x":18,"y":68},{"x":18,"y":75},{"x":18,"y":82},{"x":18,"y":93},
{"x":19,"y":18},{"x":19,"y":28},{"x":19,"y":37},{"x":19,"y":46},{"x":19,"y":54},{"x":19,"y":62},{"x":19,"y":76},
{"x":20,"y":13},{"x":20,"y":30},{"x":20,"y":40},{"x":20,"y":48},{"x":20,"y":55},{"x":20,"y":62},{"x":20,"y":76},
{"x":21,"y":25},{"x":21,"y":36},{"x":21,"y":46},{"x":21,"y":56},{"x":21,"y":67},
{"x":22,"y":20},{"x":22,"y":32},{"x":22,"y":43},{"x":22,"y":55},{"x":22,"y":64},
{"x":23,"y":23},{"x":23,"y":35},{"x":23,"y":45},{"x":23,"y":55},{"x":23,"y":65},
{"x":24,"y":25},{"x":24,"y":35},{"x":24,"y":45},{"x":24,"y":53},{"x":24,"y":58}],
"pTMTA":[{"x":1,"y":192},{"x":3,"y":110},{"x":5,"y":30},{"x":5,"y":40},{"x":5,"y":62},{"x":5,"y":105},{"x":6,"y":22},{"x":6,"y":48},{"x":6,"y":88},{"x":7,"y":35},{"x":7,"y":55},
{"x":8,"y":18},{"x":8,"y":22},{"x":8,"y":26},{"x":8,"y":30},{"x":8,"y":34},{"x":8,"y":38},{"x":8,"y":44},{"x":8,"y":50},{"x":8,"y":60},{"x":8,"y":75},{"x":8,"y":85},
{"x":9,"y":18},{"x":9,"y":24},{"x":9,"y":30},{"x":9,"y":38},{"x":9,"y":50},{"x":9,"y":70},
{"x":10,"y":16},{"x":10,"y":20},{"x":10,"y":24},{"x":10,"y":28},{"x":10,"y":33},{"x":10,"y":40},{"x":10,"y":50},{"x":10,"y":70},
{"x":11,"y":14},{"x":11,"y":18},{"x":11,"y":22},{"x":11,"y":26},{"x":11,"y":30},{"x":11,"y":35},{"x":11,"y":42},{"x":11,"y":55},
{"x":12,"y":12},{"x":12,"y":14},{"x":12,"y":16},{"x":12,"y":18},{"x":12,"y":20},{"x":12,"y":22},{"x":12,"y":24},{"x":12,"y":26},{"x":12,"y":28},{"x":12,"y":30},{"x":12,"y":32},{"x":12,"y":35},{"x":12,"y":38},{"x":12,"y":42},{"x":12,"y":48},{"x":12,"y":58},{"x":12,"y":80},{"x":12,"y":145},{"x":12,"y":240},
{"x":13,"y":12},{"x":13,"y":14},{"x":13,"y":16},{"x":13,"y":18},{"x":13,"y":20},{"x":13,"y":22},{"x":13,"y":24},{"x":13,"y":26},{"x":13,"y":28},{"x":13,"y":30},{"x":13,"y":33},{"x":13,"y":36},{"x":13,"y":40},{"x":13,"y":46},{"x":13,"y":55},{"x":13,"y":90},{"x":13,"y":98},
{"x":14,"y":13},{"x":14,"y":16},{"x":14,"y":18},{"x":14,"y":20},{"x":14,"y":22},{"x":14,"y":24},{"x":14,"y":26},{"x":14,"y":28},{"x":14,"y":31},{"x":14,"y":34},{"x":14,"y":38},{"x":14,"y":45},{"x":14,"y":55},{"x":14,"y":75},{"x":14,"y":240},
{"x":15,"y":14},{"x":15,"y":17},{"x":15,"y":20},{"x":15,"y":23},{"x":15,"y":26},{"x":15,"y":29},{"x":15,"y":33},{"x":15,"y":38},{"x":15,"y":46},{"x":15,"y":60},
{"x":16,"y":11},{"x":16,"y":13},{"x":16,"y":15},{"x":16,"y":17},{"x":16,"y":19},{"x":16,"y":21},{"x":16,"y":23},{"x":16,"y":25},{"x":16,"y":27},{"x":16,"y":29},{"x":16,"y":31},{"x":16,"y":34},{"x":16,"y":38},{"x":16,"y":43},{"x":16,"y":50},{"x":16,"y":62},{"x":16,"y":97},{"x":16,"y":145},
{"x":17,"y":14},{"x":17,"y":18},{"x":17,"y":21},{"x":17,"y":24},{"x":17,"y":27},{"x":17,"y":31},{"x":17,"y":36},{"x":17,"y":45},{"x":17,"y":55},
{"x":18,"y":12},{"x":18,"y":15},{"x":18,"y":18},{"x":18,"y":20},{"x":18,"y":22},{"x":18,"y":24},{"x":18,"y":26},{"x":18,"y":28},{"x":18,"y":31},{"x":18,"y":35},{"x":18,"y":40},{"x":18,"y":50},{"x":18,"y":60},{"x":18,"y":97},
{"x":19,"y":15},{"x":19,"y":20},{"x":19,"y":25},{"x":19,"y":30},{"x":19,"y":38},{"x":19,"y":80},{"x":19,"y":240},
{"x":20,"y":14},{"x":20,"y":18},{"x":20,"y":23},{"x":20,"y":28},{"x":20,"y":34},{"x":20,"y":42},{"x":20,"y":88},
{"x":21,"y":14},{"x":21,"y":20},{"x":21,"y":26},{"x":21,"y":34},{"x":21,"y":150},
{"x":22,"y":14},{"x":22,"y":20},{"x":22,"y":26},{"x":22,"y":32},
{"x":23,"y":16},{"x":23,"y":22},{"x":23,"y":28},{"x":23,"y":36},
{"x":24,"y":18},{"x":24,"y":24},{"x":24,"y":30},{"x":24,"y":60}],
"pTMTB":[{"x":1,"y":240},{"x":3,"y":218},{"x":5,"y":240},{"x":5,"y":160},{"x":5,"y":130},{"x":5,"y":70},{"x":5,"y":52},{"x":6,"y":240},{"x":6,"y":150},{"x":6,"y":130},{"x":7,"y":110},
{"x":8,"y":35},{"x":8,"y":42},{"x":8,"y":50},{"x":8,"y":58},{"x":8,"y":65},{"x":8,"y":72},{"x":8,"y":80},{"x":8,"y":90},{"x":8,"y":100},{"x":8,"y":112},{"x":8,"y":125},{"x":8,"y":135},{"x":8,"y":160},{"x":8,"y":180},{"x":8,"y":200},{"x":8,"y":220},{"x":8,"y":240},
{"x":9,"y":40},{"x":9,"y":55},{"x":9,"y":70},{"x":9,"y":90},{"x":9,"y":115},{"x":9,"y":135},{"x":9,"y":240},
{"x":10,"y":25},{"x":10,"y":32},{"x":10,"y":40},{"x":10,"y":48},{"x":10,"y":56},{"x":10,"y":65},{"x":10,"y":75},{"x":10,"y":88},{"x":10,"y":105},{"x":10,"y":120},{"x":10,"y":165},{"x":10,"y":180},{"x":10,"y":240},
{"x":11,"y":28},{"x":11,"y":35},{"x":11,"y":45},{"x":11,"y":55},{"x":11,"y":68},{"x":11,"y":80},{"x":11,"y":95},{"x":11,"y":120},{"x":11,"y":150},{"x":11,"y":190},
{"x":12,"y":22},{"x":12,"y":27},{"x":12,"y":32},{"x":12,"y":36},{"x":12,"y":40},{"x":12,"y":44},{"x":12,"y":48},{"x":12,"y":52},{"x":12,"y":56},{"x":12,"y":60},{"x":12,"y":65},{"x":12,"y":72},{"x":12,"y":80},{"x":12,"y":90},{"x":12,"y":102},{"x":12,"y":118},{"x":12,"y":140},{"x":12,"y":165},{"x":12,"y":240},
{"x":13,"y":22},{"x":13,"y":27},{"x":13,"y":32},{"x":13,"y":36},{"x":13,"y":40},{"x":13,"y":44},{"x":13,"y":48},{"x":13,"y":52},{"x":13,"y":56},{"x":13,"y":61},{"x":13,"y":67},{"x":13,"y":75},{"x":13,"y":85},{"x":13,"y":98},{"x":13,"y":115},{"x":13,"y":140},{"x":13,"y":160},{"x":13,"y":205},{"x":13,"y":240},
{"x":14,"y":15},{"x":14,"y":24},{"x":14,"y":30},{"x":14,"y":36},{"x":14,"y":41},{"x":14,"y":46},{"x":14,"y":51},{"x":14,"y":56},{"x":14,"y":62},{"x":14,"y":70},{"x":14,"y":80},{"x":14,"y":95},{"x":14,"y":115},{"x":14,"y":145},{"x":14,"y":175},{"x":14,"y":240},
{"x":15,"y":20},{"x":15,"y":28},{"x":15,"y":36},{"x":15,"y":44},{"x":15,"y":52},{"x":15,"y":60},{"x":15,"y":70},{"x":15,"y":85},{"x":15,"y":105},{"x":15,"y":130},{"x":15,"y":160},
{"x":16,"y":20},{"x":16,"y":25},{"x":16,"y":29},{"x":16,"y":33},{"x":16,"y":37},{"x":16,"y":41},{"x":16,"y":45},{"x":16,"y":49},{"x":16,"y":53},{"x":16,"y":58},{"x":16,"y":64},{"x":16,"y":72},{"x":16,"y":82},{"x":16,"y":95},{"x":16,"y":110},{"x":16,"y":130},{"x":16,"y":150},{"x":16,"y":195},{"x":16,"y":240},
{"x":17,"y":22},{"x":17,"y":30},{"x":17,"y":38},{"x":17,"y":46},{"x":17,"y":54},{"x":17,"y":62},{"x":17,"y":75},{"x":17,"y":95},{"x":17,"y":145},{"x":17,"y":230},
{"x":18,"y":20},{"x":18,"y":26},{"x":18,"y":32},{"x":18,"y":37},{"x":18,"y":42},{"x":18,"y":47},{"x":18,"y":52},{"x":18,"y":58},{"x":18,"y":66},{"x":18,"y":76},{"x":18,"y":90},{"x":18,"y":105},{"x":18,"y":130},{"x":18,"y":180},
{"x":19,"y":25},{"x":19,"y":35},{"x":19,"y":45},{"x":19,"y":55},{"x":19,"y":70},{"x":19,"y":95},{"x":19,"y":150},{"x":19,"y":240},
{"x":20,"y":22},{"x":20,"y":32},{"x":20,"y":42},{"x":20,"y":52},{"x":20,"y":62},{"x":20,"y":80},{"x":20,"y":95},
{"x":21,"y":25},{"x":21,"y":35},{"x":21,"y":45},{"x":21,"y":58},{"x":21,"y":75},{"x":21,"y":150},
{"x":22,"y":28},{"x":22,"y":38},{"x":22,"y":50},{"x":22,"y":65},{"x":22,"y":118},
{"x":23,"y":30},{"x":23,"y":40},{"x":23,"y":52},{"x":23,"y":68},
{"x":24,"y":25},{"x":24,"y":40},{"x":24,"y":55},{"x":24,"y":75},{"x":24,"y":100},{"x":24,"y":135}]
},
"spacing":14.5,
"vconcat":[
{"spacing":18,"hconcat":[
{"width":302,"height":190,"data":{"name":"bSDMT"},"encoding":{"x":{"field":"x","type":"quantitative","title":"Education (years)","scale":{"domain":[-1.2,25.2],"nice":false,"zero":false},"axis":{"values":[0,2,4,6,8,10,12,14,16,18,20,22,24],"tickCount":30}}},
"layer":[
{"mark":"area","encoding":{"y":{"field":"lo","type":"quantitative","title":"SDMT","scale":{"domain":[-5.3,105.8],"nice":false,"zero":false},"axis":{"values":[0,25,50,75,100],"tickCount":20}},"y2":{"field":"hi"}}},
{"data":{"name":"pSDMT"},"mark":"circle","encoding":{"y":{"field":"y","type":"quantitative","title":"SDMT"}}},
{"mark":"line","encoding":{"y":{"field":"f","type":"quantitative","title":"SDMT"}}}]},
{"width":302,"height":190,"data":{"name":"bSCNT"},"encoding":{"x":{"field":"x","type":"quantitative","title":"Education (years)","scale":{"domain":[-1.2,25.2],"nice":false,"zero":false},"axis":{"values":[0,2,4,6,8,10,12,14,16,18,20,22,24],"tickCount":30}}},
"layer":[
{"mark":"area","encoding":{"y":{"field":"lo","type":"quantitative","title":"SCNT","scale":{"domain":[-6.5,130],"nice":false,"zero":false},"axis":{"values":[0,40,80,120],"tickCount":20}},"y2":{"field":"hi"}}},
{"data":{"name":"pSCNT"},"mark":"circle","encoding":{"y":{"field":"y","type":"quantitative","title":"SCNT"}}},
{"mark":"line","encoding":{"y":{"field":"f","type":"quantitative","title":"SCNT"}}}]}]},
{"spacing":18,"hconcat":[
{"width":302,"height":188,"data":{"name":"bSWRT"},"encoding":{"x":{"field":"x","type":"quantitative","title":"Education (years)","scale":{"domain":[-1.2,25.2],"nice":false,"zero":false},"axis":{"values":[0,2,4,6,8,10,12,14,16,18,20,22,24],"tickCount":30}}},
"layer":[
{"mark":"area","encoding":{"y":{"field":"lo","type":"quantitative","title":"SWRT","scale":{"domain":[-7.8,175.3],"nice":false,"zero":false},"axis":{"values":[0,50,100,150],"tickCount":20}},"y2":{"field":"hi"}}},
{"data":{"name":"pSWRT"},"mark":"circle","encoding":{"y":{"field":"y","type":"quantitative","title":"SWRT"}}},
{"mark":"line","encoding":{"y":{"field":"f","type":"quantitative","title":"SWRT"}}}]},
{"width":302,"height":188,"data":{"name":"bSIT"},"encoding":{"x":{"field":"x","type":"quantitative","title":"Education (years)","scale":{"domain":[-1.2,25.2],"nice":false,"zero":false},"axis":{"values":[0,2,4,6,8,10,12,14,16,18,20,22,24],"tickCount":30}}},
"layer":[
{"mark":"area","encoding":{"y":{"field":"lo","type":"quantitative","title":"SIT","scale":{"domain":[-5.5,124],"nice":false,"zero":false},"axis":{"values":[0,25,50,75,100],"tickCount":20}},"y2":{"field":"hi"}}},
{"data":{"name":"pSIT"},"mark":"circle","encoding":{"y":{"field":"y","type":"quantitative","title":"SIT"}}},
{"mark":"line","encoding":{"y":{"field":"f","type":"quantitative","title":"SIT"}}}]}]},
{"spacing":18,"hconcat":[
{"width":309,"height":190,"data":{"name":"bCFT"},"encoding":{"x":{"field":"x","type":"quantitative","title":"Education (years)","scale":{"domain":[-1.2,25.2],"nice":false,"zero":false},"axis":{"values":[0,2,4,6,8,10,12,14,16,18,20,22,24],"tickCount":30}}},
"layer":[
{"mark":"area","encoding":{"y":{"field":"lo","type":"quantitative","title":"CFT","scale":{"domain":[-2.4,50.6],"nice":false,"zero":false},"axis":{"values":[0,10,20,30,40,50],"tickCount":20}},"y2":{"field":"hi"}}},
{"data":{"name":"pCFT"},"mark":"circle","encoding":{"y":{"field":"y","type":"quantitative","title":"CFT"}}},
{"mark":"line","encoding":{"y":{"field":"f","type":"quantitative","title":"CFT"}}}]},
{"width":309,"height":190,"data":{"name":"bLFT"},"encoding":{"x":{"field":"x","type":"quantitative","title":"Education (years)","scale":{"domain":[-1.2,25.2],"nice":false,"zero":false},"axis":{"values":[0,2,4,6,8,10,12,14,16,18,20,22,24],"tickCount":30}}},
"layer":[
{"mark":"area","encoding":{"y":{"field":"lo","type":"quantitative","title":"LFT","scale":{"domain":[-4.5,98.4],"nice":false,"zero":false},"axis":{"values":[0,25,50,75],"tickCount":20}},"y2":{"field":"hi"}}},
{"data":{"name":"pLFT"},"mark":"circle","encoding":{"y":{"field":"y","type":"quantitative","title":"LFT"}}},
{"mark":"line","encoding":{"y":{"field":"f","type":"quantitative","title":"LFT"}}}]}]},
{"spacing":18,"hconcat":[
{"width":302,"height":188,"data":{"name":"bTMTA"},"encoding":{"x":{"field":"x","type":"quantitative","title":"Education (years)","scale":{"domain":[-1.2,25.2],"nice":false,"zero":false},"axis":{"values":[0,2,4,6,8,10,12,14,16,18,20,22,24],"tickCount":30}}},
"layer":[
{"mark":"area","encoding":{"y":{"field":"lo","type":"quantitative","title":"TMT-A","scale":{"domain":[-11,250],"nice":false,"zero":false},"axis":{"values":[0,40,80,120,160,200,240],"tickCount":20}},"y2":{"field":"hi"}}},
{"data":{"name":"pTMTA"},"mark":"circle","encoding":{"y":{"field":"y","type":"quantitative","title":"TMT-A"}}},
{"mark":"line","encoding":{"y":{"field":"f","type":"quantitative","title":"TMT-A"}}}]},
{"width":302,"height":188,"data":{"name":"bTMTB"},"encoding":{"x":{"field":"x","type":"quantitative","title":"Education (years)","scale":{"domain":[-1.2,25.2],"nice":false,"zero":false},"axis":{"values":[0,2,4,6,8,10,12,14,16,18,20,22,24],"tickCount":30}}},
"layer":[
{"mark":"area","encoding":{"y":{"field":"lo","type":"quantitative","title":"TMT-B","scale":{"domain":[-11,250],"nice":false,"zero":false},"axis":{"values":[0,40,80,120,160,200,240],"tickCount":20}},"y2":{"field":"hi"}}},
{"data":{"name":"pTMTB"},"mark":"circle","encoding":{"y":{"field":"y","type":"quantitative","title":"TMT-B"}}},
{"mark":"line","encoding":{"y":{"field":"f","type":"quantitative","title":"TMT-B"}}}]}]}
]}
